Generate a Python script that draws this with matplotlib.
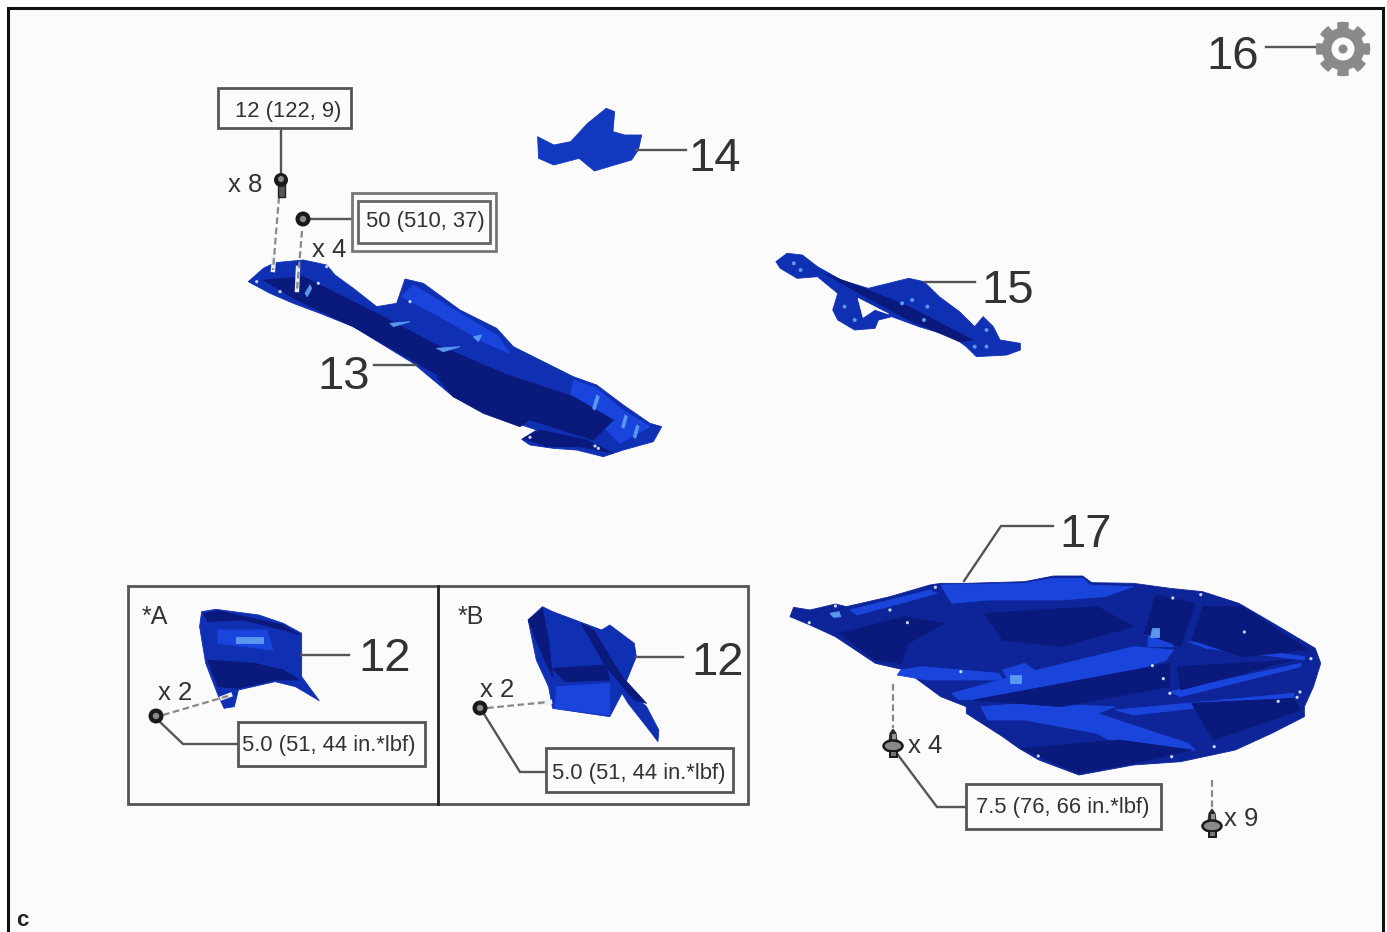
import numpy as np
import matplotlib
matplotlib.use('Agg')
import matplotlib.pyplot as plt
from matplotlib.patches import Polygon, Circle, Rectangle, Ellipse

plt.rcParams['font.family'] = ['Liberation Sans', 'DejaVu Sans']

BG = '#fbfbfb'
BLUE = '#1030b4'
DARK = '#0a1a7c'
BRIGHT = '#1a45dc'
LIGHT = '#5a98f0'
TEXT = '#333333'
LINE = '#555555'

part13 = [(85,605),(130,565),(165,548),(250,540),(320,555),(345,585),(400,625),(470,680),(530,670),(555,597),(610,610),(720,690),(830,745),(880,800),(1060,890),(1130,915),(1210,975),(1290,1030),(1325,1040),(1300,1085),(1210,1110),(1150,1130),(1070,1110),(1000,1105),(930,1095),(905,1078),(950,1050),(800,1000),(700,950),(640,900),(580,850),(400,740),(300,700),(220,670),(150,640)]
part13_dark = [[(130,600),(250,590),(470,700),(640,790),(850,880),(1060,950),(1180,1020),(1120,1080),(900,1010),(680,900),(400,740),(230,660)],
               [(650,890),(720,900),(800,960),(940,1010),(900,1040),(790,1000),(700,950)],
               [(910,1075),(960,1050),(1100,1080),(1180,1120),(1080,1100),(980,1100)]]
part13_bright = [[(545,650),(580,615),(720,700),(830,765),(870,820),(800,790),(640,700)],
                 [(1060,900),(1130,925),(1200,985),(1290,1040),(1200,1090),(1130,1020),(1050,960)],
                 [(270,620),(350,640),(560,760),(700,830),(860,930),(820,940),(640,830),(420,720)]]
part13_light = [[(255,640),(270,615),(275,625),(262,650)],[(510,730),(570,725),(520,740)],[(650,805),(720,800),(670,815)],
                [(1118,985),(1130,945),(1138,950),(1125,990)],[(1205,1040),(1215,1005),(1222,1010),(1212,1045)],[(1240,1070),(1250,1035),(1257,1040),(1247,1075)],[(760,770),(785,765),(775,785)]]
part13_holes = [(160,570),(230,625),(570,665),(1135,1105),(1125,1098),(180,635),(295,610),(320,560),(110,605),(930,1072)]

part14 = [(52,140),(100,165),(150,155),(200,100),(255,55),(280,65),(275,125),(310,135),(360,135),(350,180),(330,210),(220,243),(175,205),(100,225),(55,205)]

part15 = [(757,515),(790,490),(835,495),(880,530),(950,570),(1030,595),(1150,565),(1195,575),(1240,620),(1300,665),(1345,710),(1370,680),(1400,710),(1420,750),(1480,760),(1480,780),(1440,795),(1350,800),(1320,770),(1280,740),(1180,710),(1100,680),(1060,690),(1050,715),(990,720),(940,690),(925,660),(940,610),(880,560),(820,565),(770,535)]
part15_gap = [(1000,625),(1090,672),(1050,658),(1015,682)]
part15_dark = [[(900,550),(1030,600),(1150,650),(1340,750),(1300,755),(1150,690),(1030,625)]]
part15_light = [(810,520),(830,540),(960,650),(990,690),(1130,640),(1160,630),(1205,650),(1195,690),(1380,720),(1380,770),(1345,770)]

part12a = [(200,95),(235,88),(340,105),(400,130),(445,160),(445,290),(488,362),(430,320),(380,305),(290,330),(280,380),(255,385),(240,345),(210,250),(195,140)]
part12a_dark = [[(215,240),(330,250),(400,270),(440,300),(380,300),(290,325),(240,320)],[(205,100),(240,92),(400,135),(440,165),(400,150),(300,120),(215,125)]]
part12a_bright = [[(240,150),(360,150),(375,210),(240,190)]]
part12a_light = [[(285,172),(350,172),(350,188),(285,188)]]

part12b = [(1000,120),(1035,80),(1060,95),(1180,150),(1200,135),(1260,190),(1265,230),(1235,320),(1290,380),(1320,450),(1318,485),(1290,440),(1245,370),(1230,340),(1200,410),(1060,385),(1050,320),(1020,240)]
part12b_dark = [[(1130,130),(1160,150),(1230,290),(1290,370),(1260,360),(1190,260)],[(1060,265),(1190,255),(1200,300),(1090,305)],[(1000,120),(1035,85),(1050,180),(1060,290),(1040,240)]]
part12b_bright = [[(1070,320),(1200,310),(1200,405),(1065,385)]]

part17 = [(55,350),(65,322),(110,330),(180,312),(210,320),(330,290),(440,255),(470,250),(540,250),(700,245),(780,228),(860,228),(885,248),(1000,250),(1100,265),(1190,275),(1290,310),(1400,380),(1500,445),(1515,490),(1495,560),(1470,620),(1470,650),(1380,700),(1280,750),(1130,785),(1000,795),(850,825),(740,780),(685,745),(640,710),(540,640),(540,620),(470,590),(370,510),(290,490),(180,410),(110,375)]
part17_dark = [[(590,340),(900,320),(1000,380),(800,440),(640,420)],
               [(1060,285),(1170,310),(1130,440),(1030,400)],
               [(1190,320),(1300,320),(1480,450),(1300,470),(1160,420)],
               [(1160,610),(1440,595),(1460,630),(1220,720)],
               [(190,400),(370,350),(480,370),(380,430),(360,490),(290,480)],
               [(690,745),(960,720),(1160,750),(1000,790),(850,820)],
               [(1120,500),(1440,480),(1130,570)],
               [(560,600),(1100,490),(1100,560),(800,620)]]
part17_bright = [[(470,255),(700,250),(780,235),(860,235),(880,255),(1000,260),(920,290),(800,300),(600,300),(500,310)],
                 [(500,580),(700,520),(1000,440),(1110,450),(1090,480),(900,550),(700,590),(520,600)],
                 [(360,510),(420,500),(630,520),(640,540),(430,540),(350,525)],
                 [(580,620),(700,610),(950,620),(900,640),(1150,730),(1170,750),(1000,760),(900,700),(700,660),(600,660)],
                 [(1040,390),(1080,380),(1110,440),(1040,440)],
                 [(640,510),(700,490),(740,520),(660,550)],
                 [(1150,425),(1200,430),(1470,470),(1470,480),(1200,445)],
                 [(950,630),(1440,580),(1440,592),(1000,645)],
                 [(220,330),(440,270),(460,280),(240,345)],
                 [(1100,575),(1460,490),(1460,500),(1130,590)]]
part17_light = [[(165,340),(190,335),(195,350),(175,352)],[(1050,385),(1070,385),(1070,410),(1045,410)],[(660,525),(690,525),(690,550),(660,550)]]
part17_holes = [(108,368),(180,318),(330,330),(378,368),(455,262),(1108,294),(1185,284),(1305,396),(1488,476),(1458,576),(1398,604),(1100,580),(1082,536),(1052,497),(525,515),(1222,740),(1105,770),(738,768),(1450,592)]

# callouts: label, left, top, right, bottom (px)
torque_labels = ['12 (122, 9)', '5.0 (51, 44 in.*lbf)', '5.0 (51, 44 in.*lbf)', '7.5 (76, 66 in.*lbf)']
torque_boxes = [(218,88,351,128), (238,722,425,766), (546,748,733,792), (966,784,1161,829)]
torque_text_pos = [(288,111), (329,746), (639,773), (1063,807)]

number_labels = ['13', '14', '15', '16', '17', '12', '12']
number_pos = [(344,377), (715,159), (1008,291), (1233,57), (1086,535), (385,659), (718,663)]

count_labels = ['x 8', 'x 4', 'x 2', 'x 2', 'x 4', 'x 9']
count_pos = [(245,185), (329,250), (175,693), (497,690), (925,746), (1241,819)]

leaders = [[(281,128),(281,172)], [(311,219),(352,219)], [(374,365),(416,365)], [(636,150),(686,150)],
           [(925,282),(975,282)], [(1266,47),(1322,47)], [(964,581),(1001,526),(1053,526)],
           [(301,655),(349,655)], [(636,657),(683,657)],
           [(160,722),(183,744),(238,744)], [(484,714),(520,772),(546,772)],
           [(898,755),(937,807),(966,807)]]
dashes = [[(279,197),(273,270)], [(302,231),(297,290)], [(163,715),(228,696)], [(487,708),(548,702)],
          [(893,684),(893,728)], [(1212,780),(1212,808)]]
dash_halos = [[(274,258),(273,270)], [(298,268),(297,290)], [(222,698),(230,695)], [(540,703),(550,702)]]

nuts = [(303,219), (156,716), (480,708)]
bolts_round = [(281,180)]
bolts_flange = [(893,745), (1212,825)]

dpi = 100
fig = plt.figure(figsize=(13.87, 9.32), dpi=dpi, facecolor='white')
ax = fig.add_axes([0, 0, 1, 1])
ax.set_xlim(0, 1387)
ax.set_ylim(932, 0)
ax.axis('off')


def crop(points, box):
    x0, y0, sx, sy = box
    return [(x0 + px / sx, y0 + py / sy) for px, py in points]


def shape(points, color, z=2):
    ax.add_patch(Polygon(points, closed=True, facecolor=color, edgecolor=color, linewidth=0.6, joinstyle='round', zorder=z))


def part(outline, box, dark=(), bright=(), light=(), base=BLUE):
    shape(crop(outline, box), base, 2)
    for p in bright:
        shape(crop(p, box), BRIGHT, 3)
    for p in dark:
        shape(crop(p, box), DARK, 3)
    for p in light:
        shape(crop(p, box), LIGHT, 4)


def dots(points, box, color='#c8d4f0', r=1.6):
    for x, y in crop(points, box):
        ax.add_patch(Circle((x, y), r, facecolor=color, edgecolor='none', zorder=5))


# crop windows: left, top, x scale, y scale
CROP_13 = (220, 80, 3, 3)
CROP_14 = (520, 90, 2.958, 3)
CROP_12 = (120, 580, 2.45, 3)
CROP_17 = (770, 500, 2.751, 3)

# background and frame
ax.add_patch(Rectangle((8, 8), 1375, 940, facecolor=BG, edgecolor='#111111', linewidth=2.2, zorder=0))

# parts
part(part13, CROP_13, part13_dark, part13_bright, part13_light)
dots(part13_holes, CROP_13)
part(part14, CROP_14, base='#1238c0')
part(part15, CROP_14, part15_dark)
shape(crop(part15_gap, CROP_14), BG, 4)
dots(part15_light, CROP_14, color=LIGHT, r=2.0)
part(part12a, CROP_12, part12a_dark, part12a_bright, part12a_light)
part(part12b, CROP_12, part12b_dark, part12b_bright)
part(part17, CROP_17, part17_dark, part17_bright, part17_light, base='#0d2599')
dots(part17_holes, CROP_17)

# inset frames
ax.add_patch(Rectangle((128, 586), 620, 218, facecolor='none', edgecolor=LINE, linewidth=2, zorder=6))
ax.plot([438, 438], [586, 804], color='#222222', lw=2, zorder=6)
ax.text(142, 617, '*A', fontsize=18, color=TEXT, ha='left', va='center', zorder=8)
ax.text(458, 617, '*B', fontsize=18, color=TEXT, ha='left', va='center', zorder=8)

# leader lines
for pts in leaders:
    xs, ys = zip(*pts)
    ax.plot(xs, ys, color=LINE, lw=1.7, zorder=6, solid_joinstyle='miter')
for pts in dash_halos:
    xs, ys = zip(*pts)
    ax.plot(xs, ys, color='#e8eef8', lw=3.2, zorder=5)
for pts in dashes:
    xs, ys = zip(*pts)
    ax.plot(xs, ys, color='#888888', lw=1.6, ls=(0, (3, 1.6)), zorder=6)

# torque boxes
for label, (x1, y1, x2, y2), (tx, ty) in zip(torque_labels, torque_boxes, torque_text_pos):
    ax.add_patch(Rectangle((x1, y1), x2 - x1, y2 - y1, facecolor=BG, edgecolor=LINE, linewidth=2, zorder=7))
    ax.text(tx, ty, label, fontsize=15.8, color=TEXT, ha='center', va='center', zorder=8)

# double box for the 50 callout
ax.add_patch(Rectangle((352, 193), 144, 58, facecolor=BG, edgecolor='#777777', linewidth=2, zorder=7))
ax.add_patch(Rectangle((358, 201), 132, 42, facecolor=BG, edgecolor='#666666', linewidth=2, zorder=7))
ax.text(425.5, 222, '50 (510, 37)', fontsize=15.8, color=TEXT, ha='center', va='center', zorder=8)

for label, (x, y) in zip(number_labels, number_pos):
    ax.text(x, y, label, fontsize=34, color=TEXT, ha='center', va='center', zorder=8)
for label, (x, y) in zip(count_labels, count_pos):
    ax.text(x, y, label, fontsize=18.5, color=TEXT, ha='center', va='center', zorder=8)
ax.text(16, 920, 'c', fontsize=16, color='#222222', ha='left', va='center', fontweight='bold', zorder=8)

# fasteners
for x, y in nuts:
    ax.add_patch(Circle((x, y), 7.5, facecolor='#1a1a1a', edgecolor='none', zorder=9))
    ax.add_patch(Circle((x, y), 3.2, facecolor='#8a8a8a', edgecolor='none', zorder=10))
for x, y in bolts_round:
    ax.add_patch(Rectangle((x - 3.5, y + 4), 7, 13, facecolor='#555555', edgecolor='#222222', lw=1, zorder=9))
    ax.add_patch(Circle((x, y), 7, facecolor='#1a1a1a', edgecolor='none', zorder=10))
    ax.add_patch(Circle((x, y - 1), 3, facecolor='#8a8a8a', edgecolor='none', zorder=11))
for x, y in bolts_flange:
    shape([(x - 4, y - 5), (x - 3, y - 12), (x, y - 16), (x + 3, y - 12), (x + 4, y - 5), (x + 4, y + 2), (x - 4, y + 2)], '#2a2a2a', 9)
    shape([(x - 1.5, y - 11), (x + 1.5, y - 11), (x + 1.5, y - 3), (x - 1.5, y - 3)], '#9a9a9a', 10)
    ax.add_patch(Ellipse((x, y + 1), 19, 11, facecolor='#8a8a8a', edgecolor='#1a1a1a', lw=1.8, zorder=10))
    ax.add_patch(Rectangle((x - 3.5, y + 6), 7, 6, facecolor='#777777', edgecolor='#1a1a1a', lw=1.4, zorder=10))

# gear symbol
gear_cx, gear_cy = 1343, 49
angles = np.linspace(0, 2 * np.pi, 160, endpoint=False)
radii = np.where(np.cos(8 * angles) > -0.05, 26.5, 20.5)
ax.add_patch(Polygon(np.column_stack([gear_cx + radii * np.cos(angles), gear_cy + radii * np.sin(angles)]),
                     closed=True, facecolor='#8a8a8a', edgecolor='#8a8a8a', lw=1, joinstyle='round', zorder=7))
ax.add_patch(Circle((gear_cx, gear_cy), 11.5, facecolor=BG, edgecolor='none', zorder=8))
ax.add_patch(Circle((gear_cx, gear_cy), 4.5, facecolor='#8a8a8a', edgecolor='none', zorder=9))

fig.savefig('out.png', dpi=dpi, facecolor='white')
